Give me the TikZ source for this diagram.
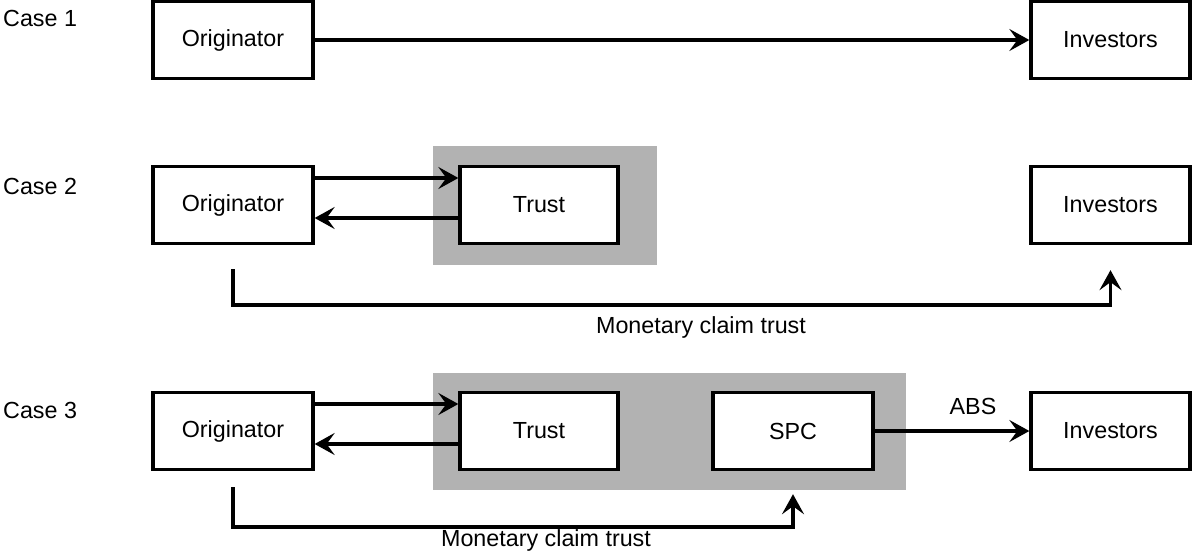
\documentclass[tikz,border=0pt]{standalone}
\usepackage{fontspec}
\setmainfont{Liberation Sans}
\usetikzlibrary{arrows.meta}
\begin{document}
\begin{tikzpicture}[x=1pt,y=-1pt,
  every node/.style={font=\fontsize{23.3}{27}\selectfont},
  box/.style={draw=black,line width=3.3pt,fill=white,minimum width=160pt,minimum height=77pt,inner sep=0pt},
  graybox/.style={fill=black!30,draw=none,inner sep=0pt},
  lbl/.style={inner sep=0pt},
  arr/.style={line width=3.3pt,-{Stealth[length=20pt,width=22pt,inset=8pt]}},
  ln/.style={line width=3.3pt}]
\useasboundingbox (0,0) rectangle (1192,552);
% labels
\node[lbl,anchor=west] (c1) at (3,18) {Case 1};
\node[lbl,anchor=west] (c2) at (3,186) {Case 2};
\node[lbl,anchor=west] (c3) at (3,410) {Case 3};
% Case 1
\node[box] (o1) at (233,40) {Originator};
\node[box,minimum width=159pt] (i1) at (1110.5,40) {Investors};
\draw[arr] (o1) -- (i1);
% Case 2
\node[graybox,minimum width=224pt,minimum height=119pt] (g2) at (545,205.5) {};
\node[box] (o2) at (233,205) {Originator};
\node[box,minimum width=158pt] (t2) at (539,205) {Trust};
\node[box,minimum width=159pt] (i2) at (1110.5,205) {Investors};
\draw[arr] ([yshift=27pt]o2.east) -- ([yshift=27pt]t2.west);
\draw[arr] ([yshift=-13pt]t2.west) -- ([yshift=-13pt]o2.east);
\coordinate (s2) at ([yshift=-24pt]o2.south);
\coordinate (e2) at ([yshift=-25pt]i2.south);
\coordinate (b2) at (233,305);
\draw[arr] (s2) -- (b2) -- (e2 |- b2) -- (e2);
\node[lbl] (m2) at (701,327) {Monetary claim trust};
% Case 3
\node[graybox,minimum width=473pt,minimum height=117pt] (g3) at (669.5,431.5) {};
\node[box] (o3) at (233,431) {Originator};
\node[box,minimum width=158pt] (t3) at (539,431) {Trust};
\node[box] (p3) at (793,431) {SPC};
\node[box,minimum width=159pt] (i3) at (1110.5,431) {Investors};
\draw[arr] ([yshift=27pt]o3.east) -- ([yshift=27pt]t3.west);
\draw[arr] ([yshift=-13pt]t3.west) -- ([yshift=-13pt]o3.east);
\draw[arr] (p3) -- (i3);
\node[lbl] (abs) at (973,406) {ABS};
\coordinate (s3) at ([yshift=-16pt]o3.south);
\coordinate (e3) at ([yshift=-4pt]g3.south -| p3.south);
\coordinate (b3) at (233,527);
\draw[arr] (s3) -- (b3) -- (e3 |- b3) -- (e3);
\node[lbl] (m3) at (546,540) {Monetary claim trust};
\end{tikzpicture}
\end{document}
